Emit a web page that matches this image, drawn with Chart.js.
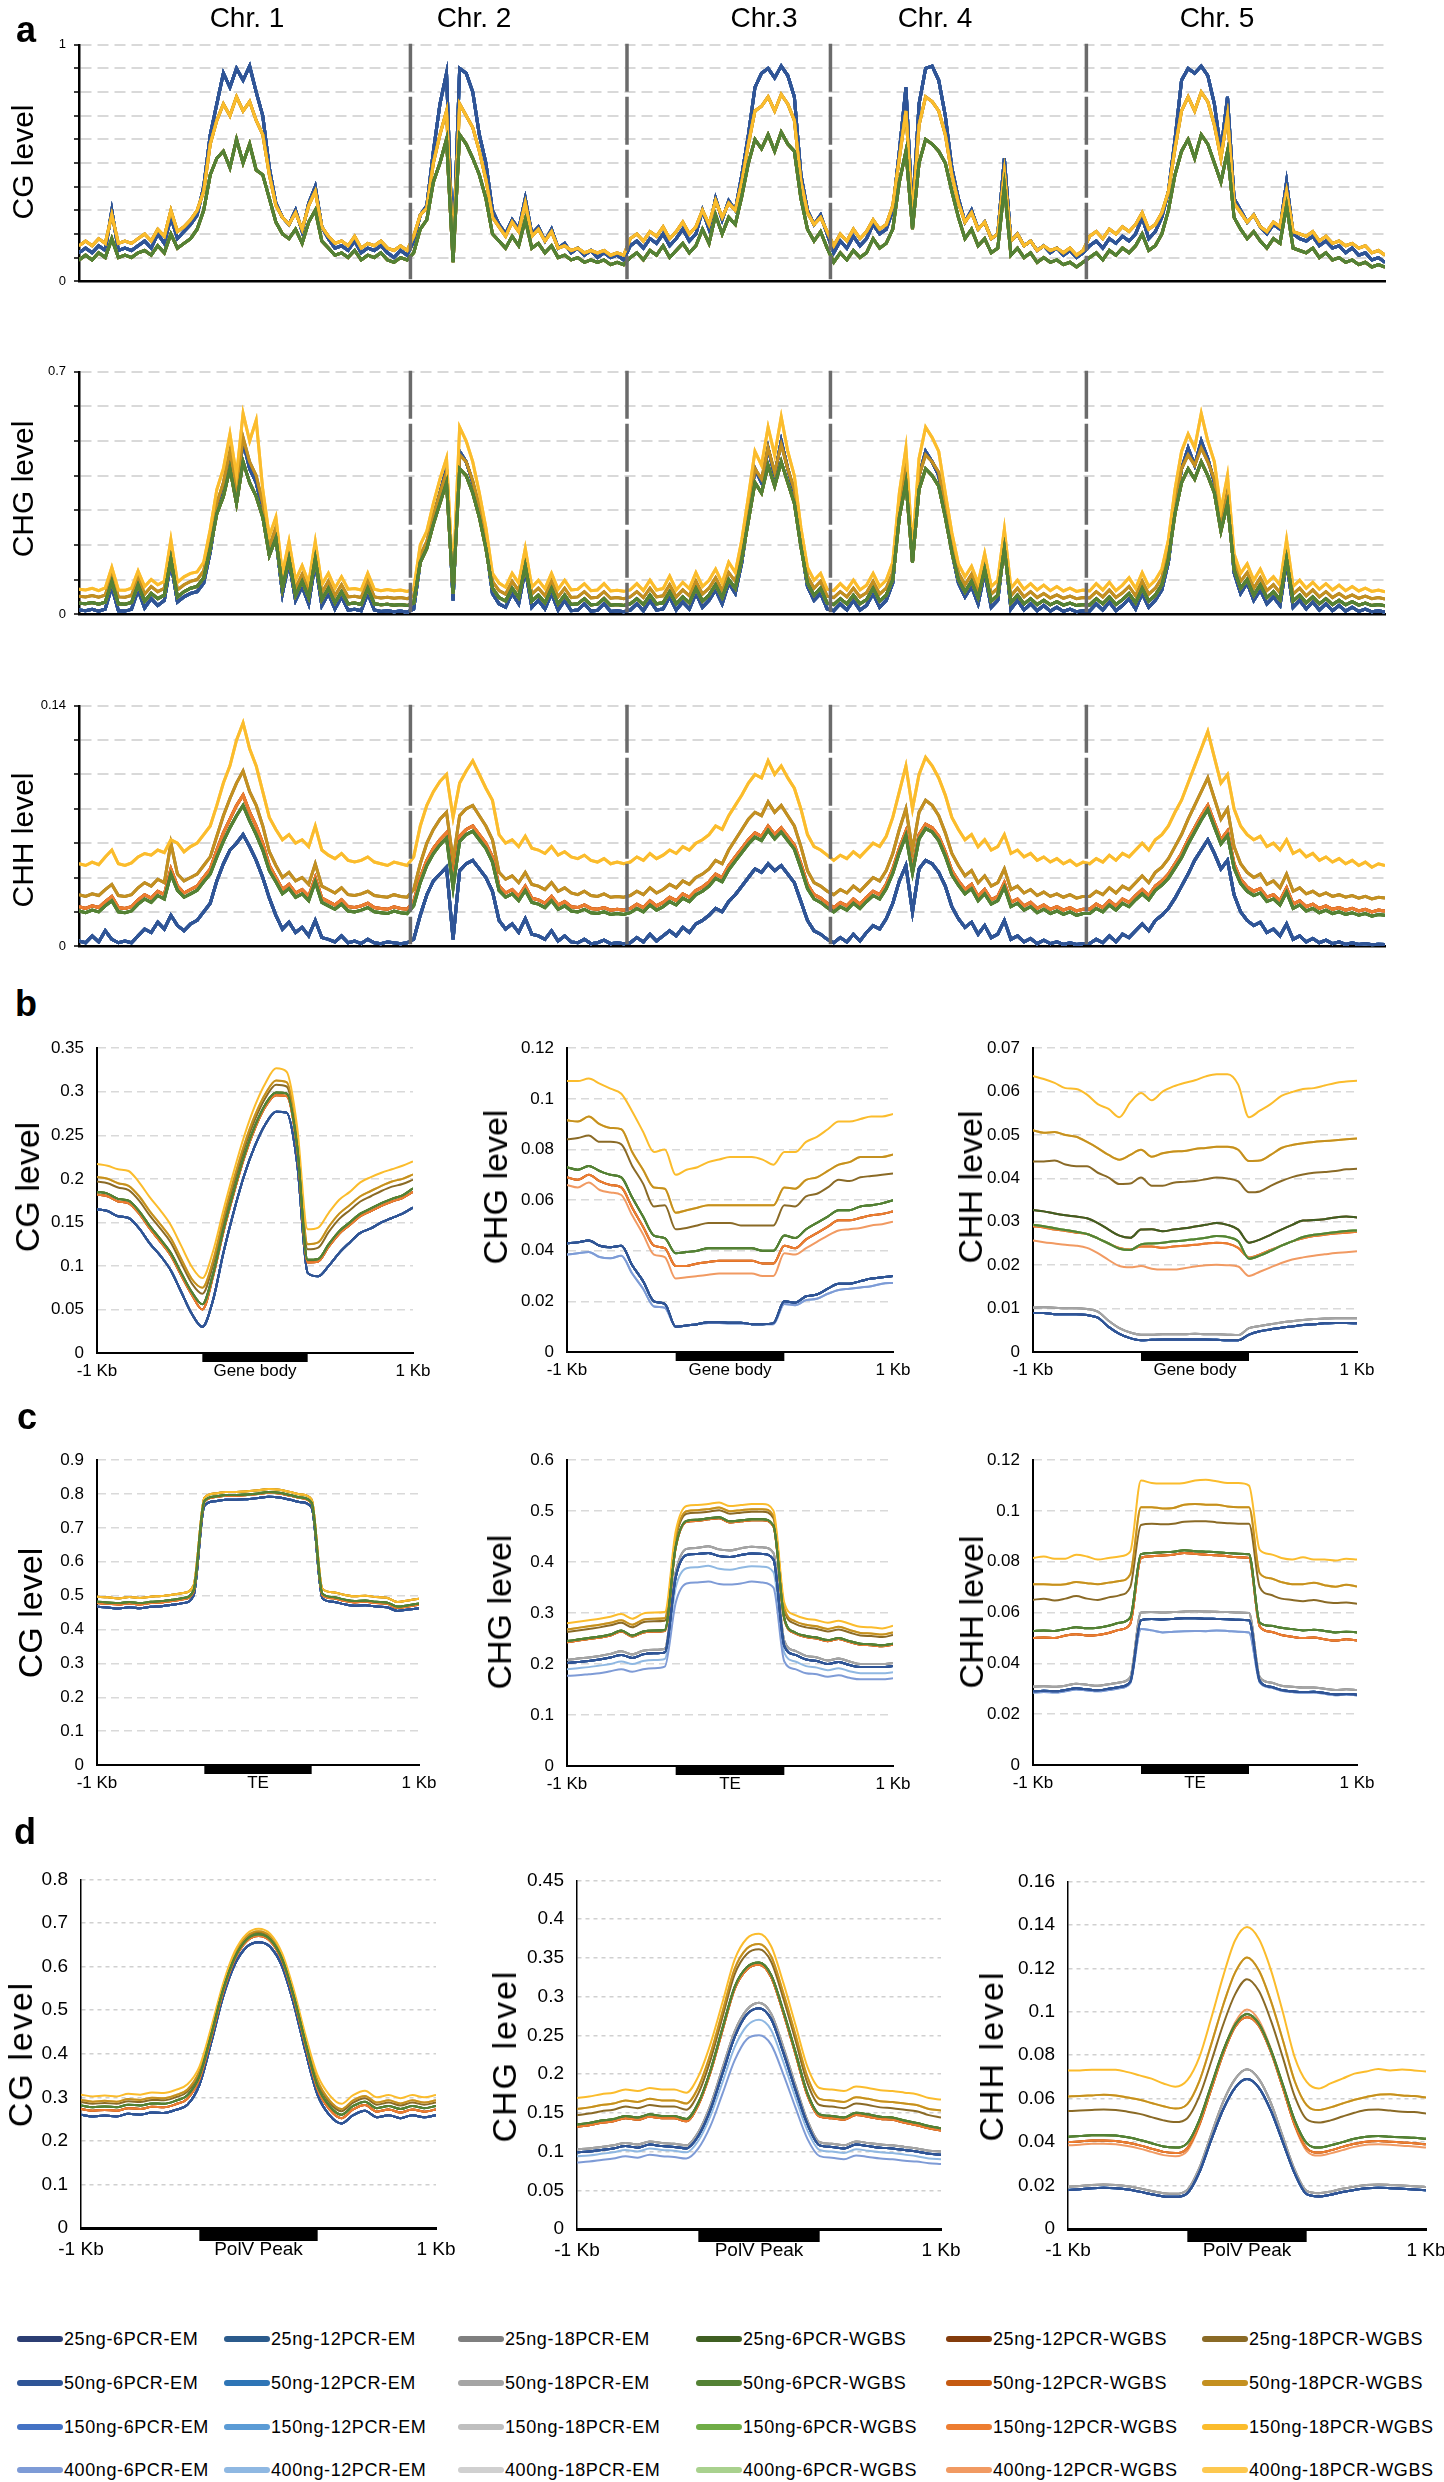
<!DOCTYPE html>
<html>
<head>
<meta charset="utf-8">
<script src="https://cdn.jsdelivr.net/npm/chart.js@4.4.1/dist/chart.umd.min.js"></script>
<style>
  body { margin: 0; background: #fff; }
  #stage { position: relative; width: 1444px; height: 2482px; overflow: hidden; background: #fff;
           font-family: "Liberation Sans", Arial, sans-serif; color: #000; }
  #stage canvas { position: absolute; z-index: 1; }
  .t { position: absolute; white-space: nowrap; z-index: 2; line-height: 1; }
  .letter { font-weight: bold; font-size: 36px; line-height: 36px; }
  .chr { font-size: 28px; transform: translate(-50%, -50%); }
  .yt { transform: translate(-50%, -50%) rotate(-90deg); }
  .sw { position: absolute; width: 46px; height: 6px; border-radius: 3px; z-index: 2; }
  .lg { font-size: 18px; letter-spacing: 0.6px; transform: translateY(-50%); }
</style>
</head>
<body>
<div id="stage">
  <div class="t letter" style="left:16px;top:12px">a</div>
  <div class="t letter" style="left:15px;top:986px">b</div>
  <div class="t letter" style="left:17px;top:1399px">c</div>
  <div class="t letter" style="left:14px;top:1814px">d</div>

  <div class="t yt" style="left:23px;top:162px;font-size:30px">CG level</div>
  <div class="t yt" style="left:23px;top:489px;font-size:30px">CHG level</div>
  <div class="t yt" style="left:23px;top:840px;font-size:30px">CHH level</div>

  <div class="t yt" style="left:27px;top:1187px;font-size:34px">CG level</div>
  <div class="t yt" style="left:495px;top:1187px;font-size:34px">CHG level</div>
  <div class="t yt" style="left:970px;top:1187px;font-size:34px">CHH level</div>

  <div class="t yt" style="left:30px;top:1613px;font-size:34px">CG level</div>
  <div class="t yt" style="left:499px;top:1612px;font-size:34px">CHG level</div>
  <div class="t yt" style="left:971px;top:1612px;font-size:34px">CHH level</div>

  <div class="t yt" style="left:20px;top:2054px;font-size:34px;letter-spacing:2px">CG level</div>
  <div class="t yt" style="left:504px;top:2056px;font-size:34px;letter-spacing:2px">CHG level</div>
  <div class="t yt" style="left:991px;top:2056px;font-size:34px;letter-spacing:2px">CHH level</div>
</div>
<script>
// ---------- series ----------
const doses = ['25ng', '50ng', '150ng', '400ng'];
const protocols = ['6PCR-EM', '12PCR-EM', '18PCR-EM', '6PCR-WGBS', '12PCR-WGBS', '18PCR-WGBS'];
const colors = [
  ['#2c3e73', '#2b5b8c', '#7f7f7f', '#3f5f22', '#843c0c', '#8a6a26'],
  ['#2f5597', '#2e75b6', '#a5a5a5', '#548235', '#c55a11', '#c49020'],
  ['#4472c4', '#5b9bd5', '#bfbfbf', '#70ad47', '#ed7d31', '#fbbc2c'],
  ['#7e9bd6', '#8fb8e2', '#d0d0d0', '#a9d18e', '#f19a62', '#fdc84f']
];
// profile each series follows in a panel (first key present wins)
const curveKeys = [
  [['em'], ['em'], ['emg', 'em'], ['w25', 'w6'], ['w25', 'w12', 'w6'], ['w18a', 'w18b', 'w18c']],
  [['em'], ['em'], ['emg', 'em'], ['w6'], ['w12', 'w6'], ['w18b', 'w18a', 'w18c']],
  [['em'], ['em'], ['emg', 'em'], ['w6'], ['w12', 'w6'], ['w18c', 'w18b', 'w18a']],
  [['em2', 'em'], ['em3', 'em2', 'em'], ['emg', 'em'], ['w6'], ['w12b', 'w12', 'w6'], ['w18b', 'w18c', 'w18a']]
];

// ---------- a: genome-wide, bins per chromosome ----------
const chrBins = [51, 33, 31, 39, 46];
const chrNames = ['Chr. 1', 'Chr. 2', 'Chr.3', 'Chr. 4', 'Chr. 5'];

// CG level x100
const gCG = {
  em: [12,14,12,15,13,30,13,14,13,15,17,14,20,16,27,18,21,24,28,40,62,75,88,82,90,85,91,80,70,48,33,27,24,30,21,33,40,23,18,14,15,13,17,12,14,13,15,12,10,13,11,
       17,28,32,55,75,88,10,90,88,80,62,50,30,24,20,26,22,35,20,23,17,22,14,16,12,14,11,13,10,12,10,11,9,
       15,17,14,18,16,20,15,18,22,17,20,30,22,35,26,34,30,45,62,82,88,90,86,91,87,78,45,30,24,28,20,
       12,17,14,19,15,18,24,20,22,30,55,82,28,75,90,91,85,70,48,35,25,30,22,25,18,20,52,17,20,15,17,13,15,12,14,11,13,10,12,
       15,17,14,18,16,19,17,20,27,18,21,27,38,60,85,90,88,91,87,75,55,78,35,30,25,28,23,20,24,22,42,20,18,17,19,15,17,14,15,12,14,11,12,9,10,8],
  w6: [9,11,9,12,10,18,10,11,10,12,13,11,15,12,20,14,16,18,22,30,45,52,55,48,60,50,58,47,45,35,25,20,18,22,16,25,30,17,14,11,12,10,13,9,11,10,12,9,8,10,9,
       12,22,26,42,50,60,8,62,58,52,45,35,20,17,14,19,15,26,14,16,12,15,10,11,9,10,8,9,8,9,7,8,7,
       10,12,9,13,11,15,10,13,16,12,15,22,16,28,20,27,24,36,50,60,56,62,55,63,58,55,35,22,17,21,14,
       8,12,9,13,10,12,18,14,16,22,42,55,22,50,60,58,55,50,38,27,18,22,15,18,12,14,40,11,14,10,12,8,10,8,9,7,8,6,8,
       10,12,9,13,11,14,12,15,20,13,15,20,30,45,55,60,52,62,58,50,42,55,27,22,18,21,17,14,18,16,32,14,13,12,14,10,12,9,10,8,9,7,8,6,7,6],
  w18c: [15,17,15,18,16,28,16,17,16,18,20,17,22,19,30,21,23,26,30,38,58,68,75,70,78,72,76,68,62,45,32,27,24,29,22,32,38,23,19,16,17,15,19,14,16,15,17,14,13,15,13,
       19,28,31,50,62,72,11,75,70,65,55,43,27,23,19,25,21,33,19,22,17,21,14,15,13,14,12,13,12,13,11,12,11,
       18,20,17,21,19,23,18,21,25,20,23,30,24,34,27,33,30,42,58,72,74,78,72,79,75,68,42,29,24,27,21,
       15,20,17,22,18,21,26,22,24,32,52,72,27,66,78,76,72,62,45,33,25,29,22,25,18,20,46,17,20,15,17,13,15,13,14,12,14,11,13,
       19,21,18,22,20,23,21,24,29,22,24,29,38,56,72,78,72,80,76,66,52,70,33,29,25,28,23,21,25,23,38,21,20,19,21,17,19,16,17,15,16,14,15,12,13,11]
};

// CHG level x1000
const gCHG = {
  em: [12,10,14,9,15,80,10,9,14,70,18,45,25,40,150,35,50,60,65,90,180,300,360,460,340,500,420,380,300,170,220,60,150,40,80,30,150,25,60,15,50,12,14,10,60,12,8,10,7,9,6,
       15,150,200,280,350,420,40,470,440,380,300,200,60,30,20,60,30,130,20,40,15,60,12,40,10,12,30,9,11,30,8,10,7,
       12,30,10,40,12,15,50,12,35,15,60,20,40,70,30,90,60,150,280,420,380,480,400,500,420,350,200,80,40,60,15,
       10,30,12,40,12,25,60,20,40,90,300,420,150,400,470,440,400,300,180,90,50,80,30,120,20,40,200,15,40,12,30,10,25,9,20,8,15,7,10,
       9,30,12,35,10,25,45,15,60,20,40,70,150,300,420,480,430,500,450,380,250,350,120,60,90,40,70,30,50,25,150,20,40,15,35,12,30,10,25,9,20,8,15,7,10,6],
  w6: [32,30,34,29,35,95,30,29,34,85,38,60,45,55,160,50,65,75,80,105,190,290,340,420,320,440,380,340,280,170,220,75,160,55,95,48,160,42,75,33,65,30,32,28,75,30,27,29,26,28,25,
       32,150,190,260,320,380,60,420,400,350,280,190,75,48,38,75,48,140,38,55,33,75,30,55,28,30,45,27,29,45,26,28,25,
       30,45,28,55,30,33,65,30,50,33,75,38,55,85,48,100,75,160,270,380,350,430,370,440,380,320,195,90,55,75,32,
       28,45,30,55,30,42,75,38,55,100,280,380,150,360,420,400,370,280,180,100,65,95,48,130,38,55,190,33,55,30,45,28,40,27,36,26,32,25,28,
       27,45,30,50,28,42,60,33,75,38,55,85,160,290,380,420,390,440,400,350,240,320,130,75,100,55,85,48,65,42,160,38,55,33,50,30,45,28,40,27,36,26,32,25,28,24],
  w18a: [52,50,54,49,55,115,50,49,54,105,58,80,65,75,185,70,85,95,100,125,215,320,380,470,360,510,440,400,320,195,250,95,185,75,115,68,185,62,95,53,85,50,52,48,95,50,47,49,46,48,45,
       52,170,210,285,350,410,80,460,440,385,310,215,95,68,58,95,68,165,58,75,53,95,50,75,48,50,65,47,49,65,46,48,45,
       50,65,48,75,50,53,85,50,70,53,95,58,75,105,68,120,95,185,300,420,390,480,410,490,420,360,220,110,75,95,52,
       48,65,50,75,50,62,95,58,75,120,310,420,170,400,460,440,410,310,205,120,85,115,68,150,58,75,215,53,75,50,65,48,60,47,56,46,52,45,48,
       47,65,50,70,48,62,80,53,95,58,75,105,185,320,420,460,430,480,440,390,265,350,150,95,120,75,105,68,85,62,185,58,75,53,70,50,65,48,60,47,56,46,52,45,48,44],
  w18c: [72,70,75,68,76,135,70,69,75,125,80,100,85,95,215,92,108,118,122,150,245,360,420,520,400,580,500,560,360,225,280,118,210,98,140,90,210,85,118,75,108,72,74,70,118,72,68,71,68,70,66,
       72,200,240,320,390,450,100,540,500,440,350,250,118,90,78,118,90,190,78,98,74,118,72,98,70,72,88,68,70,88,67,69,66,
       70,88,68,98,70,74,110,70,92,74,120,80,98,130,90,150,120,215,340,470,430,540,460,570,470,400,250,135,98,118,72,
       68,88,70,98,70,84,118,80,98,150,350,480,190,450,540,510,470,350,235,145,108,138,90,175,80,98,245,75,98,72,88,70,84,68,80,67,75,66,70,
       67,88,70,92,68,84,105,75,120,80,98,130,215,360,470,520,480,580,500,440,300,400,175,118,145,98,130,90,108,84,215,80,98,75,92,72,88,70,84,68,80,67,75,66,70,65]
};

// CHH level x10000
const gCHH = {
  em: [30,20,60,25,90,40,20,30,20,60,100,80,140,100,180,120,90,130,150,200,250,380,480,560,600,650,580,500,400,280,180,100,140,80,110,60,150,50,40,25,60,20,30,15,40,20,15,25,20,15,20,
       40,180,300,380,420,460,40,440,480,500,450,400,320,150,100,130,80,160,70,60,40,90,30,60,25,20,40,15,20,35,15,20,15,
       20,50,25,70,30,60,90,60,110,80,130,150,180,220,200,260,300,350,400,450,430,480,440,470,420,370,260,150,90,70,40,
       20,50,25,70,30,80,120,100,160,250,380,470,200,450,500,480,430,350,230,160,110,140,70,120,50,70,150,40,60,25,45,15,35,15,25,10,20,10,15,
       15,40,20,60,25,70,50,90,130,90,150,180,220,280,350,420,500,560,620,540,450,500,300,200,150,120,140,80,100,60,130,40,60,25,45,20,35,15,25,10,20,10,15,8,12,10],
  w6: [205,195,210,200,235,265,200,195,205,245,275,255,295,275,420,325,285,305,325,375,420,520,610,690,760,820,730,650,560,440,375,305,335,285,305,265,375,255,235,215,245,205,200,210,225,200,195,190,205,195,190,
       235,370,470,540,590,630,340,610,650,670,620,570,490,325,285,305,265,325,255,245,225,265,215,235,205,200,215,195,190,200,185,190,185,
       195,220,200,240,210,230,260,240,280,260,300,320,350,395,375,445,495,545,595,635,615,675,625,665,615,565,455,335,275,255,225,
       200,230,210,250,220,260,295,275,335,425,545,645,425,625,685,665,615,525,415,355,305,335,265,305,245,265,345,230,250,210,230,195,215,190,205,185,200,180,190,
       190,220,200,240,210,250,230,270,305,270,325,355,395,455,515,595,665,735,795,695,595,645,455,365,320,295,310,260,275,240,315,220,240,205,220,195,210,190,200,185,195,180,190,175,185,180],
  w12: [230,220,235,225,260,290,225,220,230,270,300,280,320,300,450,350,310,330,350,400,450,560,660,740,820,880,780,700,600,470,400,330,360,310,330,290,400,280,260,240,270,230,225,235,250,225,220,215,230,220,215,
       260,400,500,570,620,660,380,640,680,700,650,600,520,350,310,330,290,350,280,270,250,290,240,260,230,225,240,220,215,225,210,215,210,
       220,245,225,265,235,255,285,265,305,285,325,345,375,420,400,470,520,570,620,660,640,700,650,690,640,590,480,360,300,280,250,
       225,255,235,275,245,285,320,300,360,450,570,670,450,650,710,690,640,550,440,380,330,360,290,330,270,290,370,255,275,235,255,220,240,215,230,210,225,205,215,
       215,245,225,265,235,275,255,295,330,295,350,380,420,480,540,620,690,760,820,720,620,670,480,390,345,320,335,285,300,265,340,245,265,230,245,220,235,215,225,210,220,205,215,200,210,205],
  w18a: [300,290,305,295,330,360,295,290,300,340,370,350,390,370,600,420,380,400,420,470,520,640,760,860,950,1020,900,820,700,550,470,400,430,380,400,360,480,350,330,310,340,300,295,305,320,295,290,285,300,290,285,
       330,480,600,680,740,780,500,760,800,820,760,700,620,430,390,410,370,430,360,350,330,370,320,340,310,300,320,295,290,305,285,290,285,
       295,320,300,340,310,330,360,340,380,360,400,420,450,500,480,560,620,680,740,780,760,840,780,820,760,700,580,440,370,350,320,
       300,330,310,350,320,360,400,380,440,540,680,800,560,780,850,820,760,660,540,470,410,440,370,410,350,370,450,330,350,310,330,295,315,290,305,285,300,280,290,
       290,320,300,340,310,350,330,370,410,370,430,460,510,580,650,740,820,900,980,860,740,800,580,480,430,400,420,360,380,340,420,320,340,305,320,295,310,290,300,285,295,280,290,275,285,280],
  w18c: [480,470,490,475,520,560,480,470,485,520,540,530,560,545,620,600,550,580,600,650,700,820,950,1050,1200,1300,1150,1050,900,750,680,620,650,600,620,580,700,560,530,510,540,500,490,500,520,490,480,470,490,480,470,
       520,700,820,900,960,1000,750,950,1020,1080,1000,920,850,650,600,620,580,640,570,560,540,580,530,550,520,510,530,500,490,510,480,490,480,
       490,520,500,540,510,530,560,540,580,560,600,620,650,700,680,760,820,880,950,1000,980,1080,1000,1050,980,920,800,650,580,560,530,
       500,530,510,550,520,560,600,580,640,750,900,1050,800,1000,1100,1050,980,880,750,680,620,650,580,620,560,580,650,540,560,520,540,500,520,490,510,480,500,470,490,
       480,510,490,530,500,540,520,560,600,560,620,650,700,780,850,950,1050,1150,1250,1100,950,1000,800,700,650,620,640,580,600,560,620,540,560,520,540,500,520,490,510,480,500,470,490,460,480,470]
};

// ---------- b-d: metaplots, 31 bins, feature between bins 10 and 20 ----------
const metaBins = 31;
const bodySpan = [10, 20];

const bCG = {
  w18c: [0.217,0.215,0.211,0.209,0.196,0.179,0.164,0.147,0.123,0.099,0.086,0.116,0.164,0.209,0.250,0.284,0.310,0.327,0.323,0.260,0.142,0.144,0.161,0.176,0.185,0.196,0.202,0.207,0.211,0.215,0.220],
  w18b: [0.202,0.200,0.195,0.192,0.180,0.163,0.148,0.132,0.108,0.085,0.075,0.105,0.155,0.200,0.240,0.273,0.298,0.313,0.311,0.250,0.125,0.127,0.145,0.160,0.170,0.180,0.186,0.192,0.197,0.200,0.205],
  w18a: [0.197,0.195,0.190,0.187,0.175,0.158,0.143,0.127,0.103,0.080,0.068,0.100,0.150,0.195,0.235,0.268,0.293,0.308,0.306,0.245,0.119,0.121,0.139,0.154,0.164,0.174,0.180,0.186,0.191,0.194,0.199],
  w6:   [0.185,0.183,0.177,0.175,0.163,0.146,0.131,0.115,0.092,0.070,0.056,0.090,0.142,0.187,0.228,0.261,0.286,0.299,0.298,0.238,0.107,0.108,0.125,0.140,0.150,0.160,0.166,0.172,0.177,0.181,0.189],
  w12:  [0.182,0.180,0.174,0.172,0.160,0.143,0.128,0.112,0.089,0.067,0.050,0.087,0.139,0.184,0.225,0.258,0.283,0.296,0.295,0.235,0.104,0.105,0.122,0.137,0.147,0.157,0.163,0.169,0.174,0.178,0.185],
  em:   [0.165,0.163,0.157,0.155,0.143,0.126,0.112,0.095,0.070,0.045,0.030,0.060,0.115,0.163,0.205,0.238,0.263,0.277,0.276,0.218,0.092,0.088,0.100,0.115,0.127,0.138,0.143,0.150,0.155,0.160,0.167]
};
const bCHG = {
  w18c: [0.107,0.107,0.108,0.106,0.104,0.102,0.095,0.087,0.079,0.080,0.070,0.072,0.073,0.075,0.076,0.077,0.077,0.077,0.076,0.074,0.079,0.079,0.083,0.085,0.088,0.091,0.091,0.092,0.093,0.093,0.094],
  w18b: [0.0915,0.091,0.093,0.090,0.0885,0.088,0.079,0.072,0.065,0.0645,0.055,0.056,0.057,0.058,0.058,0.058,0.058,0.058,0.058,0.058,0.065,0.0645,0.068,0.069,0.0715,0.074,0.075,0.077,0.077,0.077,0.078],
  w18a: [0.084,0.0845,0.0855,0.083,0.083,0.082,0.0735,0.0665,0.0575,0.058,0.0485,0.049,0.050,0.051,0.051,0.051,0.050,0.050,0.050,0.050,0.058,0.0575,0.0615,0.0625,0.065,0.068,0.0675,0.069,0.0695,0.070,0.0705],
  w6:   [0.073,0.072,0.0735,0.0715,0.070,0.069,0.061,0.0535,0.046,0.045,0.039,0.0395,0.040,0.041,0.041,0.041,0.041,0.041,0.040,0.040,0.046,0.045,0.0485,0.051,0.0535,0.056,0.056,0.0575,0.058,0.0587,0.060],
  w12:  [0.069,0.068,0.070,0.0675,0.066,0.065,0.057,0.0495,0.042,0.041,0.034,0.034,0.035,0.0355,0.036,0.036,0.036,0.036,0.035,0.035,0.042,0.041,0.0445,0.047,0.0495,0.052,0.052,0.053,0.054,0.0545,0.0555],
  w12b: [0.066,0.065,0.067,0.064,0.063,0.062,0.054,0.0465,0.0385,0.0375,0.029,0.0295,0.030,0.0305,0.031,0.031,0.031,0.031,0.030,0.030,0.039,0.0385,0.041,0.0435,0.046,0.048,0.0485,0.049,0.050,0.0505,0.0515],
  em:   [0.043,0.0433,0.044,0.042,0.0414,0.042,0.0343,0.028,0.020,0.019,0.010,0.0105,0.011,0.0118,0.0118,0.0116,0.0116,0.011,0.011,0.0114,0.020,0.0195,0.022,0.0227,0.025,0.027,0.027,0.028,0.029,0.0295,0.030],
  em2:  [0.0385,0.039,0.0395,0.0375,0.037,0.038,0.031,0.025,0.018,0.0175,0.010,0.0105,0.011,0.0115,0.0115,0.0113,0.0113,0.011,0.011,0.011,0.019,0.0185,0.0205,0.021,0.023,0.0245,0.025,0.0255,0.026,0.027,0.0273]
};
const bCHH = {
  w18c: [0.0636,0.0629,0.062,0.0608,0.0606,0.0593,0.0571,0.056,0.0541,0.0575,0.0597,0.058,0.060,0.0612,0.062,0.0626,0.0635,0.064,0.064,0.0616,0.0541,0.0556,0.0571,0.059,0.0599,0.0606,0.0608,0.0614,0.062,0.0623,0.0625],
  w18b: [0.0511,0.0505,0.0507,0.050,0.0496,0.0484,0.047,0.0454,0.0443,0.0454,0.0466,0.045,0.0458,0.0462,0.0463,0.0468,0.047,0.0473,0.0473,0.0466,0.044,0.0441,0.0454,0.047,0.0477,0.0481,0.0484,0.0486,0.0488,0.049,0.0492],
  w18a: [0.0439,0.0439,0.0441,0.0432,0.0428,0.0428,0.0413,0.0402,0.0387,0.0388,0.0402,0.0383,0.0383,0.039,0.0392,0.0394,0.0398,0.0402,0.040,0.0393,0.0368,0.037,0.0383,0.0394,0.0403,0.0409,0.0413,0.0415,0.0417,0.0421,0.0422],
  w25:  [0.0327,0.0324,0.0319,0.0315,0.0312,0.0308,0.0297,0.0282,0.0268,0.0263,0.0282,0.0283,0.0278,0.0282,0.0285,0.0289,0.0293,0.0297,0.0293,0.0282,0.0252,0.0259,0.027,0.0282,0.0293,0.0303,0.0304,0.0306,0.031,0.0312,0.031],
  w6:   [0.0293,0.029,0.0285,0.0281,0.0277,0.0272,0.0262,0.025,0.0238,0.0235,0.0248,0.025,0.0252,0.0255,0.0257,0.026,0.0263,0.0267,0.0265,0.0255,0.0215,0.0222,0.0233,0.0245,0.0255,0.0265,0.027,0.0273,0.0276,0.0279,0.028],
  w12:  [0.029,0.0287,0.0282,0.0279,0.0275,0.0272,0.0262,0.025,0.024,0.0236,0.0243,0.0243,0.024,0.0243,0.0245,0.0247,0.025,0.0252,0.025,0.024,0.0218,0.0225,0.0235,0.0245,0.0255,0.0262,0.0267,0.027,0.0273,0.0275,0.0277],
  w12b: [0.0257,0.0253,0.025,0.0247,0.0245,0.024,0.0228,0.0212,0.0198,0.0195,0.0198,0.0192,0.019,0.019,0.0193,0.0197,0.020,0.0201,0.020,0.0197,0.0175,0.0185,0.0195,0.0205,0.0213,0.0218,0.0222,0.0225,0.0228,0.023,0.0232],
  emg:  [0.0102,0.0103,0.0102,0.0101,0.0101,0.0099,0.0093,0.0072,0.0055,0.0045,0.004,0.004,0.0041,0.0041,0.0041,0.0042,0.0041,0.0041,0.004,0.0039,0.0055,0.006,0.0064,0.0068,0.0071,0.0074,0.0076,0.0077,0.0078,0.0078,0.0078],
  em:   [0.009,0.009,0.0087,0.0087,0.0087,0.0085,0.0079,0.0058,0.0042,0.0032,0.0027,0.0028,0.0029,0.0029,0.0029,0.0029,0.0029,0.0028,0.0027,0.0027,0.004,0.0048,0.0052,0.0056,0.0059,0.0062,0.0064,0.0066,0.0067,0.0067,0.0066]
};

const cCG = {
  w18a: [0.497,0.495,0.492,0.496,0.493,0.497,0.499,0.503,0.508,0.530,0.789,0.802,0.806,0.806,0.808,0.811,0.815,0.813,0.806,0.799,0.784,0.520,0.510,0.503,0.498,0.500,0.496,0.494,0.481,0.486,0.491],
  w6:   [0.482,0.480,0.478,0.481,0.478,0.482,0.484,0.488,0.493,0.516,0.779,0.793,0.797,0.797,0.799,0.802,0.806,0.804,0.797,0.790,0.774,0.506,0.496,0.489,0.484,0.486,0.482,0.480,0.468,0.472,0.477],
  w12:  [0.478,0.476,0.474,0.477,0.474,0.478,0.480,0.484,0.489,0.512,0.777,0.791,0.795,0.795,0.797,0.800,0.804,0.802,0.795,0.788,0.772,0.502,0.492,0.485,0.480,0.482,0.478,0.476,0.464,0.468,0.473],
  em:   [0.467,0.465,0.462,0.466,0.463,0.467,0.469,0.473,0.478,0.500,0.765,0.779,0.783,0.783,0.785,0.788,0.792,0.790,0.783,0.776,0.760,0.492,0.482,0.475,0.470,0.472,0.468,0.466,0.455,0.459,0.463]
};
const cCHG = {
  w18c: [0.280,0.283,0.286,0.289,0.293,0.298,0.289,0.299,0.301,0.302,0.460,0.510,0.512,0.514,0.517,0.510,0.512,0.514,0.514,0.501,0.320,0.296,0.289,0.286,0.281,0.285,0.279,0.273,0.272,0.270,0.275],
  w18b: [0.268,0.271,0.274,0.277,0.281,0.286,0.277,0.287,0.289,0.290,0.450,0.500,0.502,0.504,0.507,0.500,0.502,0.504,0.504,0.491,0.310,0.284,0.277,0.274,0.269,0.273,0.267,0.261,0.260,0.258,0.262],
  w18a: [0.263,0.266,0.269,0.272,0.276,0.281,0.272,0.282,0.284,0.285,0.445,0.495,0.497,0.499,0.502,0.495,0.497,0.499,0.499,0.486,0.305,0.279,0.272,0.269,0.264,0.268,0.262,0.256,0.255,0.253,0.257],
  w6:   [0.245,0.248,0.251,0.254,0.258,0.266,0.256,0.264,0.266,0.267,0.430,0.481,0.483,0.486,0.488,0.480,0.482,0.484,0.484,0.472,0.290,0.262,0.255,0.252,0.247,0.251,0.245,0.240,0.239,0.237,0.240],
  w12:  [0.243,0.246,0.249,0.252,0.256,0.264,0.254,0.262,0.264,0.265,0.428,0.479,0.481,0.484,0.486,0.478,0.480,0.482,0.482,0.470,0.288,0.260,0.253,0.250,0.245,0.249,0.243,0.238,0.237,0.235,0.238],
  emg:  [0.208,0.211,0.213,0.216,0.220,0.225,0.219,0.226,0.228,0.230,0.380,0.426,0.428,0.431,0.425,0.423,0.427,0.430,0.429,0.418,0.245,0.226,0.216,0.213,0.207,0.211,0.205,0.200,0.200,0.200,0.202],
  em:   [0.202,0.204,0.206,0.209,0.213,0.218,0.212,0.219,0.221,0.223,0.370,0.414,0.416,0.418,0.412,0.410,0.414,0.417,0.416,0.405,0.235,0.218,0.209,0.206,0.200,0.204,0.198,0.194,0.194,0.194,0.196],
  em3:  [0.190,0.192,0.194,0.197,0.200,0.205,0.200,0.206,0.208,0.210,0.350,0.388,0.390,0.393,0.387,0.385,0.389,0.392,0.391,0.380,0.222,0.205,0.196,0.193,0.188,0.192,0.186,0.182,0.182,0.182,0.184],
  em2:  [0.177,0.178,0.180,0.182,0.186,0.190,0.185,0.190,0.192,0.195,0.320,0.358,0.360,0.362,0.357,0.356,0.358,0.362,0.360,0.350,0.205,0.190,0.182,0.180,0.175,0.178,0.173,0.170,0.170,0.170,0.172]
};
const cCHH = {
  w18c: [0.0815,0.0821,0.0812,0.0812,0.0828,0.0821,0.0809,0.0815,0.0821,0.084,0.112,0.111,0.1108,0.1108,0.111,0.112,0.1123,0.1117,0.111,0.111,0.110,0.0847,0.083,0.0815,0.0809,0.0818,0.0809,0.0809,0.0805,0.0812,0.0809],
  w18b: [0.0712,0.0712,0.071,0.0712,0.072,0.0716,0.0712,0.0718,0.0724,0.075,0.1015,0.1015,0.101,0.1012,0.1025,0.1028,0.1025,0.1025,0.1018,0.1015,0.1015,0.0755,0.0735,0.072,0.0712,0.0712,0.0718,0.0708,0.0702,0.071,0.0703],
  w18a: [0.065,0.0655,0.0648,0.0655,0.0665,0.0655,0.065,0.066,0.0668,0.070,0.0945,0.095,0.0948,0.095,0.0958,0.096,0.096,0.0955,0.0952,0.095,0.095,0.070,0.067,0.0655,0.065,0.0645,0.065,0.0642,0.0638,0.064,0.0635],
  w6:   [0.0528,0.053,0.0528,0.0535,0.0542,0.0538,0.054,0.0548,0.056,0.058,0.083,0.0835,0.0838,0.084,0.0845,0.0842,0.084,0.0838,0.0835,0.0832,0.083,0.056,0.0548,0.054,0.0535,0.053,0.0532,0.0528,0.0522,0.0525,0.0522],
  w12:  [0.050,0.0502,0.050,0.051,0.0515,0.051,0.0512,0.052,0.0532,0.0555,0.0815,0.0822,0.0825,0.0828,0.0835,0.0832,0.0828,0.0826,0.0822,0.0818,0.0815,0.0545,0.0525,0.0512,0.0505,0.050,0.0502,0.0495,0.049,0.0495,0.049],
  emg:  [0.0308,0.031,0.0308,0.0312,0.032,0.0316,0.0312,0.0318,0.0325,0.0345,0.060,0.0602,0.060,0.0602,0.0604,0.0605,0.0604,0.0603,0.0602,0.060,0.0598,0.0345,0.0325,0.0312,0.0308,0.0305,0.0305,0.030,0.0295,0.0298,0.0295],
  em:   [0.029,0.0292,0.029,0.0295,0.0302,0.0298,0.0294,0.030,0.0307,0.0327,0.057,0.0575,0.0573,0.0575,0.0578,0.0578,0.0576,0.0575,0.0574,0.0572,0.057,0.033,0.0308,0.0295,0.029,0.0287,0.0288,0.0283,0.0278,0.028,0.0277],
  em2:  [0.0285,0.0287,0.0285,0.029,0.0297,0.0293,0.029,0.0295,0.0302,0.0322,0.0535,0.053,0.0522,0.0525,0.0527,0.0528,0.0527,0.053,0.0528,0.0525,0.0522,0.0325,0.0305,0.0292,0.0287,0.0284,0.0285,0.028,0.0275,0.0277,0.0274]
};

const dCG = {
  w18c: [0.306,0.302,0.304,0.302,0.308,0.306,0.311,0.310,0.317,0.330,0.370,0.460,0.560,0.635,0.675,0.687,0.675,0.630,0.545,0.440,0.350,0.305,0.285,0.305,0.315,0.300,0.305,0.298,0.305,0.300,0.305],
  w18b: [0.294,0.290,0.292,0.290,0.296,0.294,0.299,0.298,0.305,0.318,0.360,0.452,0.553,0.628,0.669,0.681,0.669,0.624,0.538,0.432,0.338,0.293,0.273,0.293,0.303,0.288,0.293,0.286,0.293,0.288,0.293],
  w18a: [0.289,0.285,0.287,0.285,0.291,0.289,0.294,0.293,0.300,0.313,0.355,0.448,0.550,0.625,0.666,0.678,0.666,0.621,0.535,0.428,0.333,0.288,0.268,0.288,0.298,0.283,0.288,0.281,0.288,0.283,0.288],
  w6:   [0.281,0.277,0.279,0.277,0.283,0.281,0.286,0.285,0.292,0.305,0.348,0.443,0.546,0.621,0.662,0.674,0.662,0.617,0.530,0.422,0.325,0.280,0.260,0.280,0.290,0.275,0.280,0.273,0.280,0.275,0.280],
  w12:  [0.273,0.269,0.271,0.269,0.275,0.273,0.278,0.277,0.284,0.297,0.341,0.437,0.541,0.617,0.658,0.670,0.658,0.613,0.525,0.416,0.318,0.272,0.252,0.272,0.282,0.267,0.272,0.265,0.272,0.267,0.272],
  em:   [0.260,0.256,0.258,0.256,0.262,0.260,0.265,0.264,0.271,0.283,0.328,0.425,0.530,0.605,0.645,0.656,0.645,0.600,0.512,0.402,0.305,0.259,0.240,0.259,0.269,0.254,0.259,0.252,0.259,0.254,0.259]
};
const dCHG = {
  w18c: [0.169,0.171,0.174,0.176,0.180,0.178,0.182,0.180,0.180,0.176,0.197,0.239,0.293,0.348,0.375,0.381,0.365,0.318,0.264,0.209,0.182,0.180,0.178,0.184,0.182,0.179,0.178,0.176,0.174,0.169,0.167],
  w18b: [0.155,0.157,0.160,0.162,0.166,0.164,0.168,0.166,0.166,0.162,0.183,0.226,0.281,0.336,0.362,0.368,0.352,0.305,0.251,0.196,0.168,0.166,0.164,0.170,0.168,0.165,0.164,0.162,0.160,0.155,0.153],
  w18a: [0.147,0.149,0.152,0.154,0.158,0.156,0.160,0.158,0.158,0.154,0.175,0.218,0.274,0.329,0.355,0.361,0.345,0.298,0.244,0.188,0.160,0.158,0.156,0.162,0.160,0.157,0.156,0.154,0.152,0.147,0.144],
  w6:   [0.135,0.137,0.140,0.142,0.146,0.144,0.148,0.146,0.146,0.142,0.163,0.205,0.260,0.313,0.338,0.344,0.328,0.282,0.229,0.175,0.148,0.146,0.144,0.150,0.148,0.145,0.144,0.140,0.137,0.133,0.130],
  w12:  [0.132,0.134,0.137,0.139,0.143,0.141,0.145,0.143,0.143,0.139,0.160,0.202,0.257,0.310,0.335,0.341,0.325,0.279,0.226,0.172,0.145,0.143,0.141,0.147,0.145,0.142,0.141,0.137,0.134,0.130,0.127],
  emg:  [0.103,0.104,0.106,0.108,0.111,0.109,0.113,0.111,0.110,0.108,0.125,0.160,0.208,0.255,0.283,0.292,0.278,0.235,0.186,0.140,0.112,0.110,0.108,0.113,0.111,0.109,0.108,0.106,0.104,0.101,0.100],
  em:   [0.099,0.100,0.102,0.104,0.107,0.105,0.109,0.107,0.106,0.104,0.120,0.154,0.201,0.248,0.277,0.285,0.271,0.228,0.180,0.135,0.108,0.106,0.104,0.109,0.107,0.105,0.104,0.102,0.100,0.097,0.096],
  em3:  [0.094,0.095,0.097,0.099,0.102,0.100,0.104,0.102,0.101,0.099,0.114,0.146,0.190,0.235,0.262,0.270,0.257,0.216,0.170,0.127,0.102,0.100,0.098,0.103,0.101,0.099,0.098,0.096,0.094,0.091,0.090],
  em2:  [0.086,0.087,0.089,0.091,0.094,0.092,0.096,0.094,0.093,0.091,0.104,0.133,0.175,0.218,0.245,0.250,0.238,0.200,0.157,0.116,0.094,0.092,0.090,0.095,0.093,0.091,0.090,0.088,0.087,0.085,0.084]
};
const dCHH = {
  w18c: [0.073,0.073,0.0733,0.0733,0.0733,0.0722,0.0707,0.0692,0.067,0.0655,0.0685,0.079,0.097,0.1163,0.1328,0.139,0.1335,0.1193,0.0999,0.079,0.0677,0.0647,0.067,0.0692,0.0715,0.0725,0.0737,0.073,0.0734,0.073,0.0725],
  w18b: [0.061,0.0612,0.0615,0.0618,0.0615,0.0605,0.0595,0.058,0.0565,0.0555,0.0575,0.068,0.085,0.103,0.118,0.125,0.119,0.105,0.087,0.068,0.057,0.0548,0.056,0.0578,0.0595,0.0608,0.0618,0.062,0.0615,0.0612,0.0605],
  w18a: [0.0543,0.0545,0.0548,0.055,0.0548,0.054,0.053,0.0515,0.050,0.0492,0.051,0.061,0.077,0.094,0.108,0.115,0.1095,0.096,0.079,0.061,0.0505,0.049,0.050,0.0518,0.0535,0.0548,0.055,0.0545,0.054,0.0538,0.0532],
  w6:   [0.0425,0.0428,0.0432,0.0432,0.043,0.0422,0.041,0.0395,0.038,0.0375,0.0395,0.050,0.066,0.082,0.094,0.099,0.0945,0.0825,0.0665,0.050,0.0395,0.0375,0.0385,0.040,0.0415,0.0425,0.0428,0.0425,0.0422,0.042,0.0415],
  w12:  [0.040,0.0403,0.0407,0.0407,0.0405,0.0397,0.0385,0.037,0.0355,0.035,0.0372,0.048,0.0642,0.0805,0.093,0.0975,0.0935,0.0815,0.065,0.048,0.0372,0.0352,0.0362,0.0378,0.0392,0.0402,0.0405,0.0402,0.0398,0.0395,0.039],
  w12b: [0.0385,0.0388,0.0392,0.0392,0.039,0.0382,0.037,0.0355,0.034,0.0335,0.036,0.0475,0.0645,0.0815,0.095,0.101,0.096,0.083,0.0655,0.0475,0.036,0.0338,0.0348,0.0363,0.0378,0.0388,0.039,0.0388,0.0383,0.038,0.0375],
  emg:  [0.0195,0.0198,0.0203,0.0205,0.0203,0.0197,0.0187,0.0175,0.0165,0.0162,0.018,0.028,0.0435,0.0585,0.069,0.0735,0.069,0.058,0.0425,0.0272,0.0175,0.0165,0.0172,0.0185,0.0195,0.0203,0.0205,0.0203,0.020,0.0197,0.0193],
  em:   [0.018,0.0183,0.0188,0.019,0.0188,0.0182,0.0172,0.016,0.015,0.0148,0.0165,0.026,0.041,0.055,0.065,0.069,0.065,0.0545,0.040,0.0255,0.016,0.015,0.0158,0.017,0.018,0.0188,0.019,0.0188,0.0185,0.0182,0.0178]
};

// ---------- layout ----------
const FONT = '"Liberation Sans", Arial, sans-serif';
Chart.defaults.font.family = FONT;
Chart.defaults.color = '#000';
const stage = document.getElementById('stage');
const protoRank = [3, 4, 5, 0, 1, 2];   // lower = drawn on top
const doseRank = [[1, 0, 2, 3], [1, 0, 2, 3], [1, 0, 2, 3], [1, 0, 2, 3], [2, 1, 0, 3], [2, 1, 0, 3]];
const idx = n => Array.from({ length: n }, (_, i) => i);
const fmt = v => String(+(+v).toFixed(4));

function buildDatasets(curves, div, width, smooth) {
  const out = [];
  doses.forEach((d, r) => protocols.forEach((p, c) => {
    const key = curveKeys[r][c].find(k => curves[k]);
    out.push({
      label: d + '-' + p,
      data: curves[key].map(v => v / div),
      borderColor: colors[r][c],
      backgroundColor: colors[r][c],
      borderWidth: width,
      pointRadius: 0,
      cubicInterpolationMode: smooth ? 'monotone' : 'default',
      tension: 0,
      order: protoRank[c] * 4 + doseRank[c][r]
    });
  }));
  return out;
}

function makeCanvas(box, W, H, padTop, padRight) {
  const c = document.createElement('canvas');
  const w = box[2] - box[0] + W + padRight, h = padTop + box[3] - box[1] + H;
  c.width = w; c.height = h;
  c.style.left = (box[0] - W) + 'px';
  c.style.top = (box[1] - padTop) + 'px';
  c.style.width = w + 'px'; c.style.height = h + 'px';
  stage.appendChild(c);
  return c;
}

const chrLines = {
  id: 'chrLines',
  afterDatasetsDraw(chart, args, opts) {
    const { ctx, chartArea, scales: { x } } = chart;
    ctx.save();
    ctx.strokeStyle = '#6b6b6b';
    ctx.lineWidth = 3.5;
    ctx.setLineDash([48, 5]);
    opts.at.forEach(b => {
      const px = x.getPixelForValue(b);
      ctx.beginPath();
      ctx.moveTo(px, chartArea.top - 1);
      ctx.lineTo(px, chartArea.bottom - 2);
      ctx.stroke();
    });
    ctx.restore();
  }
};

const bodyBar = {
  id: 'bodyBar',
  afterDraw(chart, args, opts) {
    const { ctx, chartArea, scales: { x } } = chart;
    const x0 = x.getPixelForValue(opts.span[0]), x1 = x.getPixelForValue(opts.span[1]);
    ctx.save();
    ctx.fillStyle = '#000';
    ctx.fillRect(x0, chartArea.bottom - 1, x1 - x0, opts.h);
    ctx.restore();
  }
};

// genome-wide rows
const nG = chrBins.reduce((a, b) => a + b, 0);
const chrBounds = [];
chrBins.slice(0, -1).reduce((acc, n) => { acc += n; chrBounds.push(acc - 0.5); return acc; }, 0);

[
  { curves: gCG, div: 100, box: [79, 41, 1385, 293], ymax: 1, step: 0.1 },
  { curves: gCHG, div: 1000, box: [79, 368, 1385, 626], ymax: 0.7, step: 0.1 },
  { curves: gCHH, div: 10000, box: [79, 702, 1385, 958], ymax: 0.14, step: 0.02 }
].forEach(g => {
  const cv = makeCanvas(g.box, 45, 4, 12, 10);
  new Chart(cv, {
    type: 'line',
    data: { labels: idx(nG), datasets: buildDatasets(g.curves, g.div, 3, false) },
    options: {
      responsive: false, animation: false, devicePixelRatio: 1,
      layout: { padding: { top: 12, right: 10, left: 0, bottom: 0 } },
      plugins: { legend: { display: false }, tooltip: { enabled: false }, chrLines: { at: chrBounds } },
      scales: {
        x: { type: 'linear', min: 0, max: nG - 1, grid: { display: false, drawTicks: false },
             ticks: { display: false }, border: { color: '#000', width: 2.5 },
             afterFit: s => { s.height = 4; } },
        y: { min: 0, max: g.ymax,
             ticks: { stepSize: g.step, font: { size: 13 }, color: '#000', padding: 8,
                      callback: v => (Math.abs(v) < 1e-9 || Math.abs(v - g.ymax) < 1e-9) ? fmt(v) : '' },
             grid: { color: '#d9d9d9', lineWidth: 2, drawTicks: true, tickLength: 5, tickColor: '#000', tickWidth: 1.5 },
             border: { color: '#000', width: 2.5, dash: [11, 6] },
             afterFit: s => { s.width = 45; } }
      }
    },
    plugins: [chrLines]
  });
});

// chromosome names
[247, 474, 764, 935, 1217].forEach((x, i) => {
  const el = document.createElement('div');
  el.className = 't chr';
  el.style.left = x + 'px'; el.style.top = '18px';
  el.textContent = chrNames[i];
  stage.appendChild(el);
});

// metaplots
const styleBC = { font: 17, xpad: 8, bar: 10, xw: 2, yw: 2, dash: [8, 5], grid: '#d9d9d9' };
const styleD = { font: 19, xpad: 10, bar: 14, xw: 3, yw: 1.5, dash: [4, 4], grid: '#d0d0d0' };
const metaPanels = [
  { curves: bCG,  box: [97, 1041, 413, 1353],  ymax: 0.35, step: 0.05, feat: 'Gene body', st: styleBC },
  { curves: bCHG, box: [567, 1041, 893, 1352], ymax: 0.12, step: 0.02, feat: 'Gene body', st: styleBC },
  { curves: bCHH, box: [1033, 1041, 1357, 1352], ymax: 0.07, step: 0.01, feat: 'Gene body', st: styleBC },
  { curves: cCG,  box: [97, 1453, 419, 1765],  ymax: 0.9, step: 0.1, feat: 'TE', st: styleBC },
  { curves: cCHG, box: [567, 1453, 893, 1766], ymax: 0.6, step: 0.1, feat: 'TE', st: styleBC },
  { curves: cCHH, box: [1033, 1453, 1357, 1765], ymax: 0.12, step: 0.02, feat: 'TE', st: styleBC },
  { curves: dCG,  box: [81, 1871, 436, 2228],  ymax: 0.8, step: 0.1, feat: 'PolV Peak', st: styleD },
  { curves: dCHG, box: [577, 1872, 941, 2229], ymax: 0.45, step: 0.05, feat: 'PolV Peak', st: styleD },
  { curves: dCHH, box: [1068, 1873, 1426, 2229], ymax: 0.16, step: 0.02, feat: 'PolV Peak', st: styleD }
];
const last = metaBins - 1, mid = (bodySpan[0] + bodySpan[1]) / 2;

metaPanels.forEach(m => {
  const st = m.st;
  const cv = makeCanvas(m.box, 70, 45, 16, 34);
  new Chart(cv, {
    type: 'line',
    data: { labels: idx(metaBins), datasets: buildDatasets(m.curves, 1, 2, true) },
    options: {
      responsive: false, animation: false, devicePixelRatio: 1,
      layout: { padding: { top: 16, right: 34, left: 0, bottom: 0 } },
      plugins: { legend: { display: false }, tooltip: { enabled: false }, bodyBar: { span: bodySpan, h: st.bar } },
      scales: {
        x: { type: 'linear', min: 0, max: last, grid: { display: false, drawTicks: false },
             border: { color: '#000', width: st.xw },
             ticks: { autoSkip: false, maxRotation: 0, font: { size: st.font }, color: '#000', padding: st.xpad,
                      callback: v => v === 0 ? '-1 Kb' : v === last ? '1 Kb' : v === mid ? m.feat : '' },
             afterBuildTicks: s => { s.ticks = [0, mid, last].map(value => ({ value })); },
             afterFit: s => { s.height = 45; } },
        y: { min: 0, max: m.ymax,
             ticks: { stepSize: m.step, font: { size: st.font }, color: '#000', padding: 13, callback: fmt },
             grid: { color: st.grid, lineWidth: 1.5, drawTicks: false },
             border: { color: '#000', width: st.yw, dash: st.dash },
             afterFit: s => { s.width = 70; } }
      }
    },
    plugins: [bodyBar]
  });
});

// legend
const legendCols = [17, 224, 458, 696, 946, 1202];
const legendRows = [2339, 2383, 2427, 2470];
doses.forEach((d, r) => protocols.forEach((p, c) => {
  const sw = document.createElement('div');
  sw.className = 'sw';
  sw.style.left = legendCols[c] + 'px';
  sw.style.top = (legendRows[r] - 3) + 'px';
  sw.style.background = colors[r][c];
  stage.appendChild(sw);
  const tx = document.createElement('div');
  tx.className = 't lg';
  tx.style.left = (legendCols[c] + 47) + 'px';
  tx.style.top = legendRows[r] + 'px';
  tx.textContent = d + '-' + p;
  stage.appendChild(tx);
}));
</script>
</body>
</html>
